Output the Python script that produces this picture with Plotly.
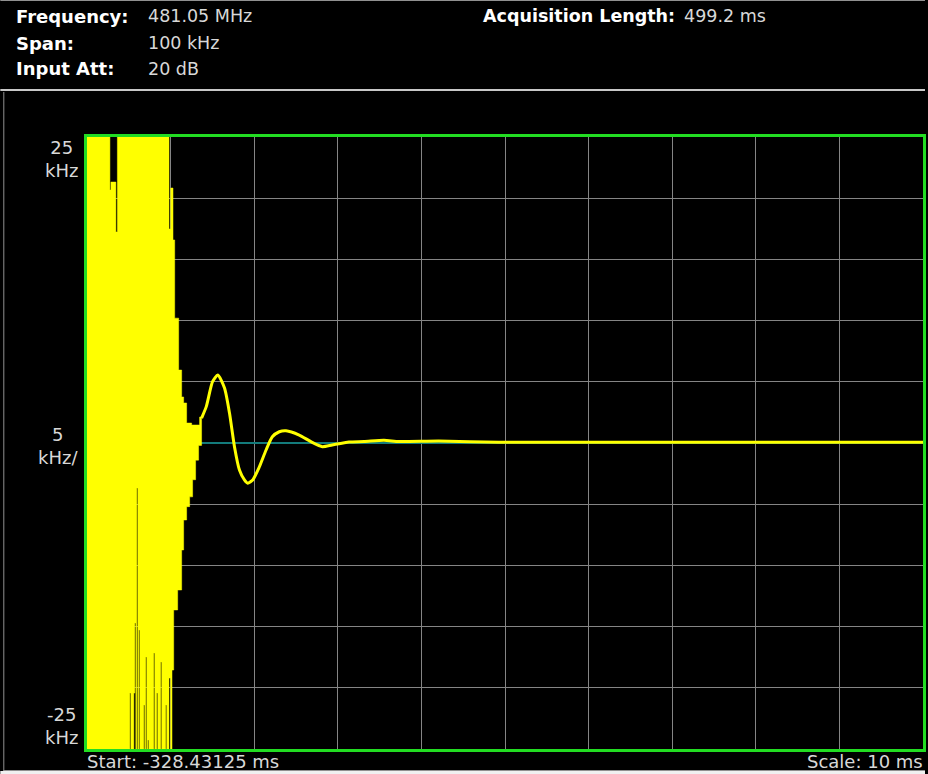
import plotly.graph_objects as go

# Sweep settings shown in the header
center_freq = "481.05 MHz"
span = "100 kHz"
input_att = "20 dB"
acq_length = "499.2 ms"

# Time axis: start of the display and ms per division
start_ms = -328.43125
scale_ms = 10
n_div = 10

# Frequency axis: kHz limits and kHz per division
f_top = 25
f_bottom = -25
f_per_div = 5

# Unlocked (noisy) part of the trace, drawn as min/max envelopes.
# Edges are ms after the display start; each value holds until the next edge.
hi_edges = [0, 2.741, 2.861, 3.456, 3.635, 9.809, 10.012, 10.286, 10.489,
            10.965, 11.323, 11.561, 11.919, 12.515, 13.468, 13.707]
hi_vals = [25, 20.67, 21.32, 17.24, 25, 17.48, 20.83, 16.59, 10.2,
           5.96, 3.76, 3.27, 1.63, 1.47, 2.12]

lo_edges = [0, 5.125, 5.245, 5.602, 5.721, 5.840, 5.960, 6.079, 6.198, 6.317,
            6.794, 6.913, 7.032, 7.151, 7.270, 7.389, 7.986, 8.105, 8.343, 8.463,
            8.820, 8.939, 9.416, 9.535, 9.809, 10.012, 10.167, 10.37, 10.846, 11.323,
            11.561, 11.919, 12.277, 12.634, 12.992, 13.349, 13.707]
lo_vals = [-25, -20.43, -25, -20.43, -14.71, -25, -3.68, -25, -15.28, -25,
           -21.41, -25, -17.48, -25, -24.26, -25, -17.16, -25, -20.43, -25,
           -17.89, -25, -21.41, -25, -19.20, -25, -18.55, -13.64, -12.01, -8.74,
           -6.29, -5.2, -4.4, -3.0, -1.4, -0.2]

# Settling ring-down after lock (ms after start, kHz)
settle_t = [13.707, 14.267, 15.018, 15.650, 16.448, 17.044, 17.640, 18.236,
            18.832, 19.225, 19.821, 20.620, 21.419, 22.169, 23.004, 23.802,
            25.387, 26.782, 28.165, 29.321, 31.347, 33.135, 35.519, 37.307,
            42.075, 49.226, 61.145, 73.064, 84.983, 100.0]
settle_f = [2.04, 2.97, 5.01, 5.56, 4.49, 2.45, -0.30, -2.21,
            -3.02, -3.29, -3.02, -1.94, -0.57, 0.51, 0.92, 1.00,
            0.65, 0.11, -0.30, -0.16, 0.08, 0.12, 0.22, 0.12,
            0.16, 0.06, 0.06, 0.06, 0.06, 0.06]


def steps(edges, vals):
    xs, ys = [], []
    for i, v in enumerate(vals):
        xs += [edges[i], edges[i + 1]]
        ys += [v, v]
    return xs, ys


ux, uy = steps(hi_edges, hi_vals)
lx, ly = steps(lo_edges, lo_vals)
poly_x = [start_ms + t for t in ux + lx[::-1]]
poly_y = uy + ly[::-1]

YELLOW = "#ffff00"
GRID = "#858585"
GREEN = "#22dd22"
TEAL = "#137b7b"
TXT = "#d8d8d8"
FONT = "DejaVu Sans"

fig = go.Figure()
fig.add_trace(go.Scatter(
    x=poly_x, y=poly_y, mode="lines", fill="toself",
    fillcolor=YELLOW, line=dict(color=YELLOW, width=0.5),
    hoverinfo="skip", showlegend=False,
))
fig.add_trace(go.Scatter(
    x=[start_ms + t for t in settle_t], y=settle_f, mode="lines",
    line=dict(color=YELLOW, width=3, shape="spline", smoothing=0.6),
    showlegend=False,
))

x_end = start_ms + scale_ms * n_div
fig.update_xaxes(
    range=[start_ms, x_end], tick0=start_ms, dtick=scale_ms,
    showgrid=True, gridcolor=GRID, gridwidth=1.2, zeroline=False,
    showticklabels=False, ticks="",
    showline=True, mirror=True, linecolor=GREEN, linewidth=2.5,
)
fig.update_yaxes(
    range=[f_bottom, f_top], tick0=f_bottom, dtick=f_per_div,
    showgrid=True, gridcolor=GRID, gridwidth=1.2,
    zeroline=True, zerolinecolor=TEAL, zerolinewidth=1.6,
    showticklabels=False, ticks="",
    showline=True, mirror=True, linecolor=GREEN, linewidth=2.5,
)

L, T, PW, PH = 87, 137, 839, 612


def px(xp):
    return (xp - L) / PW


def py(yp):
    return (T + PH - yp) / PH


annotations = []


def label(text, xp, yp, size=17, bold=False, color=TXT, anchor="left"):
    annotations.append(dict(
        text=f"<b>{text}</b>" if bold else text,
        xref="paper", yref="paper", x=px(xp), y=py(yp),
        xanchor=anchor, yanchor="middle", showarrow=False,
        font=dict(family=FONT, size=size, color=color),
    ))


# header block
label("Frequency:", 14, 16, size=18, bold=True, color="#ffffff")
label(center_freq, 146, 16, size=17.5)
label("Span:", 14, 43, size=18, bold=True, color="#ffffff")
label(span, 146, 43, size=17.5)
label("Input Att:", 14, 69, size=18, bold=True, color="#ffffff")
label(input_att, 146, 69, size=17.5)
label("Acquisition Length:", 482, 16, size=17.5, bold=True, color="#ffffff")
label(acq_length, 684, 16, size=17.5)

# vertical scale labels
label(f"{f_top}<br>kHz", 80, 159, size=18, anchor="right")
label(f"{f_per_div}<br>kHz/", 80, 446, size=18, anchor="right")
label(f"{f_bottom}<br>kHz", 80, 726, size=18, anchor="right")

# footer
label(f"Start: {start_ms} ms", 85, 761, size=18)
label(f"Scale: {scale_ms} ms", 928, 761, size=18, anchor="right")

shapes = [
    dict(type="line", xref="paper", yref="paper", x0=px(0), x1=px(928),
         y0=py(0.5), y1=py(0.5), line=dict(color="#909090", width=1)),
    dict(type="line", xref="paper", yref="paper", x0=px(0), x1=px(928),
         y0=py(90), y1=py(90), line=dict(color="#c8c8c8", width=2)),
    dict(type="line", xref="paper", yref="paper", x0=px(3.5), x1=px(3.5),
         y0=py(92), y1=py(771), line=dict(color="#909090", width=1)),
    dict(type="line", xref="paper", yref="paper", x0=px(3), x1=px(928),
         y0=py(770.5), y1=py(770.5), line=dict(color="#909090", width=1)),
    dict(type="rect", xref="paper", yref="paper", x0=px(0), x1=px(928),
         y0=py(771), y1=py(775), fillcolor="#f0f0f0", line=dict(width=0)),
]

fig.update_layout(
    width=928, height=774,
    margin=dict(l=L, r=928 - L - PW, t=T, b=774 - T - PH),
    paper_bgcolor="#000000", plot_bgcolor="#000000",
    annotations=annotations, shapes=shapes,
    font=dict(family=FONT, color=TXT),
)

fig.write_html("out.html")
